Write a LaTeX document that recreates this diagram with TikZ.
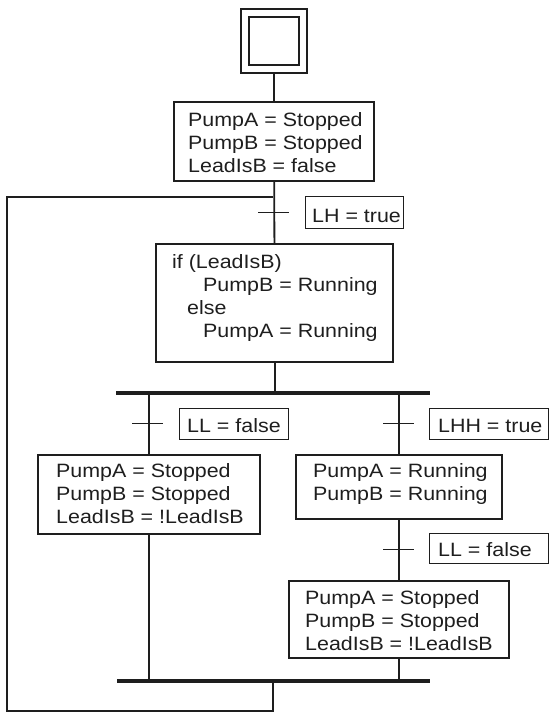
\documentclass[tikz,border=0pt]{standalone}
\usepackage{fontspec}
\setmainfont{Liberation Sans}[FakeStretch=1.11]
\usetikzlibrary{calc}
\definecolor{ink}{HTML}{1E1E1E}
\newcommand\dfont{\fontsize{19.3}{23}\selectfont}
\begin{document}
\begin{tikzpicture}[x=1pt,y=-1pt,line join=miter,
  stepbox/.style={draw=ink,line width=2.2pt,inner sep=0pt,anchor=north west},
  condbox/.style={draw=ink,line width=0.9pt,inner sep=0pt,anchor=north west},
  txt/.style={inner sep=0pt,align=left,font=\dfont,anchor=base west,text=ink},
  link/.style={draw=ink,line width=1.8pt},
  barline/.style={draw=ink,line width=3.6pt},
  tickline/.style={draw=ink,line width=0.9pt}]
\useasboundingbox (0,0) rectangle (552,713);
% initial step
\node[stepbox,line width=2pt,minimum width=66pt,minimum height=64pt] (init) at (240,8) {};
\node[stepbox,line width=2pt,minimum width=50pt,minimum height=48pt] (initin) at (248,16) {};
% step 1
\node[stepbox,minimum width=200pt,minimum height=79pt] (s1) at (173,101) {};
\node[txt] (t1) at (188,172) {PumpA = Stopped\\PumpB = Stopped\\LeadIsB = false};
% loop join
\coordinate (j1) at (273,197);
% transition LH
\coordinate (tLH) at (273,212);
\node[condbox,minimum width=98pt,minimum height=32pt] (cLH) at (305,196) {};
\node[txt] (ctLH) at (312,222) {LH = true};
% step 2
\node[stepbox,minimum width=237pt,minimum height=118pt] (s2) at (155,243) {};
\node[txt] (t2) at (172,337) {if (LeadIsB)\\\hspace*{31pt}PumpB = Running\\\hspace*{15pt}else\\\hspace*{31pt}PumpA = Running};
% divergence bar
\coordinate (b1l) at (116,393);
\coordinate (b1r) at (430,393);
% left branch
\coordinate (tLL) at (148,423);
\node[condbox,minimum width=109pt,minimum height=31pt] (cLL) at (179,408) {};
\node[txt] (ctLL) at (187,432) {LL = false};
\node[stepbox,minimum width=222pt,minimum height=79pt] (s3) at (37,454) {};
\node[txt] (t3) at (56,523) {PumpA = Stopped\\PumpB = Stopped\\LeadIsB = !LeadIsB};
% right branch
\coordinate (tLHH) at (398,423);
\node[condbox,minimum width=119pt,minimum height=31pt] (cLHH) at (429,408) {};
\node[txt] (ctLHH) at (438,432) {LHH = true};
\node[stepbox,minimum width=206pt,minimum height=64pt] (s4) at (295,454) {};
\node[txt] (t4) at (313,500) {PumpA = Running\\PumpB = Running};
\coordinate (tLL2) at (398,549);
\node[condbox,minimum width=119pt,minimum height=30pt] (cLL2) at (429,533) {};
\node[txt] (ctLL2) at (438,556) {LL = false};
\node[stepbox,minimum width=220pt,minimum height=77pt] (s5) at (288,580) {};
\node[txt] (t5) at (305,650) {PumpA = Stopped\\PumpB = Stopped\\LeadIsB = !LeadIsB};
% convergence bar
\coordinate (b2l) at (117,681);
\coordinate (b2r) at (430,681);
\coordinate (lb) at (273,711);
\coordinate (lc) at (7,711);
\coordinate (ld) at (7,197);
% connectors
\draw[link] (init) -- (s1);
\draw[link] (s1) -- (s2);
\draw[link] (s2.south) -- (s2.south |- b1l);
\draw[link] (s3.north |- b1l) -- (s3.north);
\draw[link] (s4.north |- b1l) -- (s4.north);
\draw[link] (s4.south) -- (s5.north);
\draw[link] (s3.south) -- (s3.south |- b2l);
\draw[link] (s5.south) -- (s5.south |- b2l);
\draw[link] (lb |- b2l) -- (lb) -- (lc) -- (ld) -- (j1);
\draw[barline] (b1l) -- (b1r);
\draw[barline] (b2l) -- (b2r);
% transition ticks
\draw[tickline] ([xshift=-15pt]tLH) -- ([xshift=16pt]tLH);
\draw[tickline] ([xshift=-16pt]tLL) -- ([xshift=15pt]tLL);
\draw[tickline] ([xshift=-15pt]tLHH) -- ([xshift=16pt]tLHH);
\draw[tickline] ([xshift=-15pt]tLL2) -- ([xshift=16pt]tLL2);
\end{tikzpicture}
\end{document}
